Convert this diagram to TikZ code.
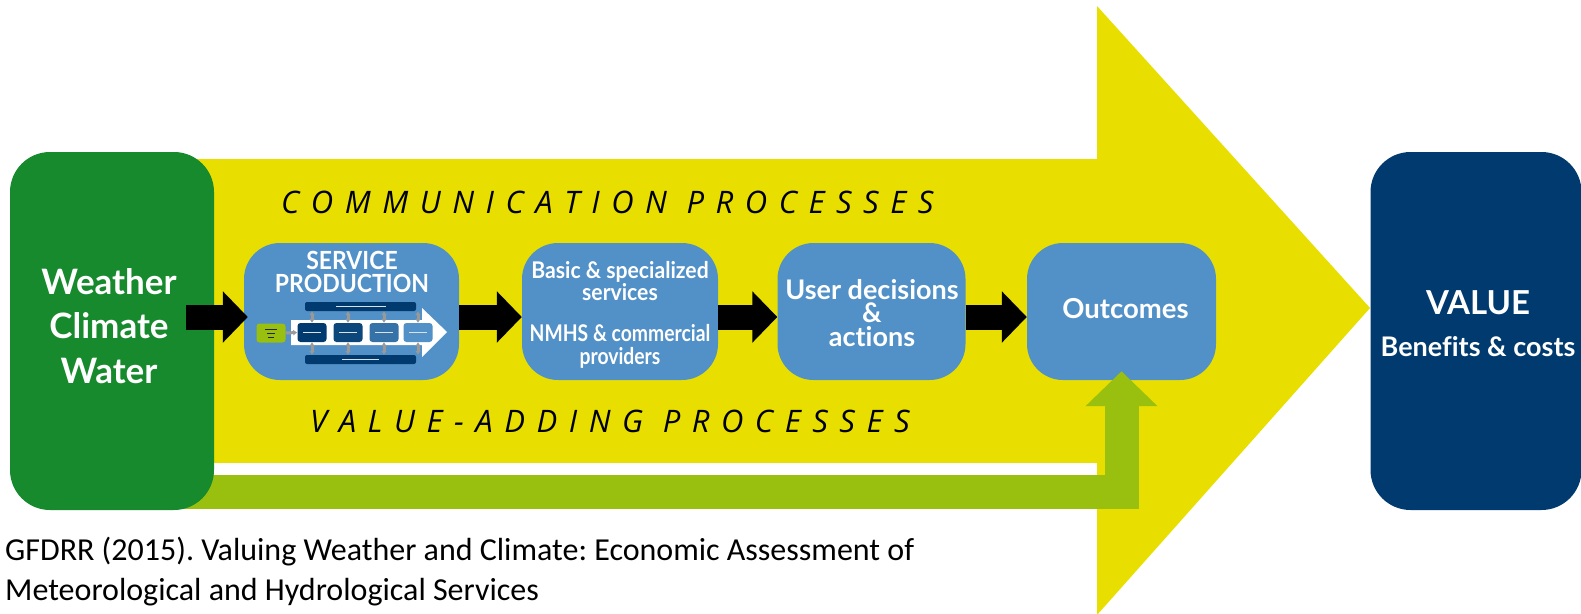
\documentclass[tikz,border=0pt]{standalone}
\usepackage{fontspec}
\usepackage{tikz}
\usetikzlibrary{arrows.meta}
\setmainfont[Ligatures=NoCommon]{Lato}
\newfontfamily\narrowfont[Ligatures=NoCommon,FakeStretch=0.92]{Lato}
\newfontfamily\nmhsfont[Ligatures=NoCommon,FakeStretch=0.84]{Lato}
\newfontfamily\capfont[Ligatures=NoCommon]{Carlito}
\newfontfamily\procfont[LetterSpace=37.2]{Open Sans}
\definecolor{flowyellow}{HTML}{E8DF00}
\definecolor{flowgreen}{HTML}{168A2C}
\definecolor{flowolive}{HTML}{99BF0F}
\definecolor{flowblue}{HTML}{5290C8}
\definecolor{flownavy}{HTML}{003A6E}
\tikzset{
	stepbox/.style={draw=none,fill=flowblue,rounded corners=36pt,inner sep=0pt,minimum height=137pt},
	endbox/.style={draw=none,rounded corners=40pt,inner sep=0pt,minimum height=358pt},
	boxtext/.style={text=white,align=center,inner sep=0pt,font=\bfseries},
	proctext/.style={inner sep=0pt,font={\procfont\itshape\fontsize{31}{36}\selectfont}},
	flowarrow/.style={line width=25pt,-{Triangle[length=25pt,width=50pt]}},
	minibar/.style={draw=none,fill=flownavy,rounded corners=2pt,minimum width=111pt,minimum height=9pt,inner sep=0pt},
	minibox/.style={draw=none,rounded corners=3pt,minimum width=29pt,minimum height=19pt,inner sep=0pt},
	minilink/.style={draw=gray!80,line width=3pt,{Latex[length=4pt,width=6pt]}-{Latex[length=4pt,width=6pt]}}}
\begin{document}
\frenchspacing
\begin{tikzpicture}[x=1pt,y=-1pt]
	\useasboundingbox(0,0) rectangle (1581,613);
	\fill[flowyellow](150,159)--(1097,159)--(1097,6)--(1370,308)--(1097,615)--(1097,463)--(150,463)--cycle;
	\fill[white](150,463) rectangle (1097,475);
	\node[stepbox,minimum width=189pt](outcomes) at (1121.5,311.5){};
	\coordinate(greenstart) at (150,492);
	\draw[flowolive,line width=34pt,-{Triangle[length=35pt,width=70pt]},shorten >=-9pt](greenstart)-|(outcomes.south);
	\node[endbox,fill=flowgreen,minimum width=204pt](weather) at (112,331){};
	\node[endbox,fill=flownavy,minimum width=211pt](value) at (1476,331){};
	\node[stepbox,minimum width=215pt](service) at (351.5,311.5){};
	\node[stepbox,minimum width=196pt](basic) at (620,311.5){};
	\node[stepbox,minimum width=188pt](user) at (871.5,311.5){};
	\coordinate(arrowstart) at (186,317);
	\draw[flowarrow,shorten >=-4pt](arrowstart)--(arrowstart-|service.west);
	\coordinate(servout) at (service.east|-arrowstart);
	\coordinate(basicin) at (basic.west|-arrowstart);
	\coordinate(basicout) at (basic.east|-arrowstart);
	\coordinate(userin) at (user.west|-arrowstart);
	\coordinate(userout) at (user.east|-arrowstart);
	\coordinate(outin) at (outcomes.west|-arrowstart);
	\draw[flowarrow](servout)--(basicin);
	\draw[flowarrow](basicout)--(userin);
	\draw[flowarrow](userout)--(outin);
	\node[boxtext,font={\bfseries\fontsize{35}{44.5}\selectfont}](weathertext) at (109,326){Weather\\Climate\\Water};
	\node[boxtext,font={\narrowfont\bfseries\fontsize{25}{22.5}\selectfont}](servicetext) at (352,272){SERVICE\\PRODUCTION};
	\node[boxtext,font={\narrowfont\bfseries\fontsize{23}{22.5}\selectfont}](basictext) at (620,281){Basic \& specialized\\services};
	\node[boxtext,font={\nmhsfont\bfseries\fontsize{23}{23}\selectfont}](nmhstext) at (620,346){NMHS \& commercial\\providers};
	\node[boxtext,font={\bfseries\fontsize{27}{23.5}\selectfont}](usertext) at (872,313){User decisions\\\&\\actions};
	\node[boxtext,font={\bfseries\fontsize{27.5}{30}\selectfont}](outcomestext) at (1125.5,309){Outcomes};
	\node[boxtext,font={\bfseries\fontsize{33}{36}\selectfont}](valuetext) at (1478,303){VALUE};
	\node[boxtext,font={\bfseries\fontsize{27}{30}\selectfont}](benefitstext) at (1478,347){Benefits \& costs};
	\node[proctext,anchor=west](commtext) at (281,202){COMMUNICATION PROCESSES};
	\node[proctext,anchor=west](addtext) at (310,421){VALUE-ADDING PROCESSES};
	\node[anchor=north west,inner sep=0pt,align=left,font={\capfont\fontsize{32}{39.5}\selectfont}](source) at (5,537){GFDRR (2015). Valuing Weather and Climate: Economic Assessment of\\Meteorological and Hydrological Services};
	\fill[white](291,320)--(422,320)--(422,308)--(447,332)--(422,357)--(422,345)--(291,345)--cycle;
	\node[minibar](minitop) at (360.5,306.5){};
	\node[minibar](minibottom) at (360.5,359.5){};
	\node[minibox,fill=flownavy](mini1) at (312,332.5){};
	\node[minibox,fill=flownavy!85!flowblue](mini2) at (348,332.5){};
	\node[minibox,fill=flownavy!35!flowblue](mini3) at (384,332.5){};
	\node[minibox,fill=flowblue](mini4) at (418,332.5){};
	\node[minibox,fill=flowolive](minigreen) at (271,333){};
	\draw[minilink](mini1.north)--(mini1.north|-minitop.south);
	\draw[minilink](mini2.north)--(mini2.north|-minitop.south);
	\draw[minilink](mini3.north)--(mini3.north|-minitop.south);
	\draw[minilink](mini4.north)--(mini4.north|-minitop.south);
	\draw[minilink](mini1.south)--(mini1.south|-minibottom.north);
	\draw[minilink](mini2.south)--(mini2.south|-minibottom.north);
	\draw[minilink](mini3.south)--(mini3.south|-minibottom.north);
	\draw[minilink](mini4.south)--(mini4.south|-minibottom.north);
	\draw[draw=gray!80,line width=3pt,-{Latex[length=4pt,width=6pt]}](minigreen.east)--(mini1.west);
	\draw[white!85!flownavy,line width=0.8pt](303,332.5)--(321,332.5) (339,332.5)--(357,332.5) (375,332.5)--(393,332.5) (409,332.5)--(427,332.5);
	\draw[white!85!flownavy,line width=0.8pt](336,306.5)--(386,306.5) (342,359.5)--(379,359.5);
	\draw[black!85,line width=0.9pt](265,329)--(277,329) (267,333)--(275,333) (268,337)--(274,337);
\end{tikzpicture}
\end{document}
